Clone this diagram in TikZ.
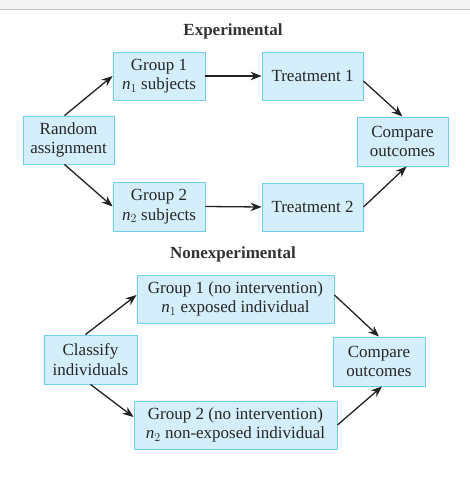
\documentclass[tikz,border=0pt]{standalone}
\usepackage{fontspec}
\setmainfont{Liberation Serif}
\usepackage{xcolor}
\usepackage{tikz}
\usetikzlibrary{arrows.meta, positioning}

\definecolor{boxfill}{HTML}{D4EEFB}
\definecolor{boxline}{HTML}{6FCFF2}
\definecolor{arrowcol}{HTML}{222222}

\begin{document}
\begin{tikzpicture}[x=1pt, y=-1pt,
    every node/.style={font=\fontsize{17}{19.5}\selectfont, text=black!85},
    box/.style={draw=boxline, fill=boxfill, line width=0.9pt, align=center, inner sep=0pt},
    heading/.style={font=\fontsize{17}{19.5}\selectfont\bfseries, text=black!80},
    link/.style={-{Stealth[length=11pt, width=8.5pt]}, line width=1.3pt, draw=arrowcol}]
  \useasboundingbox (0,0) rectangle (470,482);
  % page edge at the top
  \fill[gray!8] (0,0) rectangle (470,9);
  \draw[gray!45, line width=1pt] (0,9.5) -- (470,9.5);

  % Experimental
  \node[heading] (expt) at (233,31) {Experimental};
  \node[box, minimum width=91pt, minimum height=48pt] (rand) at (68.5,140) {Random\\assignment};
  \node[box, minimum width=92pt, minimum height=48pt] (grpA) at (159,76) {Group 1\\\textit{n}$_1$ subjects};
  \node[box, minimum width=92pt, minimum height=49pt] (grpB) at (159,206.5) {Group 2\\\textit{n}$_2$ subjects};
  \node[box, minimum width=101pt, minimum height=48pt] (trtA) at (312.5,76) {Treatment 1};
  \node[box, minimum width=101pt, minimum height=48pt] (trtB) at (312.5,207) {Treatment 2};
  \node[box, minimum width=91pt, minimum height=49pt] (cmpA) at (402.5,141.5) {Compare\\outcomes};

  \draw[link] ([xshift=-4pt]rand.north) -- (grpA.west);
  \draw[link] ([xshift=-4pt]rand.south) -- (grpB.west);
  \draw[link] (grpA.east) -- (trtA.west);
  \draw[link] (grpB.east) -- (trtB.west);
  \draw[link] ([yshift=-5pt]trtA.east) -- (cmpA.north);
  \draw[link] (trtB.east) -- ([xshift=4pt]cmpA.south);

  % Nonexperimental
  \node[heading] (nexp) at (233,254) {Nonexperimental};
  \node[box, minimum width=93pt, minimum height=49pt] (clsf) at (90.5,359.5) {Classify\\individuals};
  \node[box, minimum width=197pt, minimum height=48pt] (nexA) at (235.5,299) {Group 1 (no intervention)\\\textit{n}$_1$ exposed individual};
  \node[box, minimum width=203pt, minimum height=48pt] (nexB) at (235.5,425) {Group 2 (no intervention)\\\textit{n}$_2$ non-exposed individual};
  \node[box, minimum width=92pt, minimum height=49pt] (cmpB) at (379,361.5) {Compare\\outcomes};

  \draw[link] ([xshift=-5pt]clsf.north) -- ([yshift=4pt]nexA.west);
  \draw[link] (clsf.south) -- ([yshift=8pt]nexB.west);
  \draw[link] ([yshift=4pt]nexA.east) -- (cmpB.north);
  \draw[link] (nexB.east) -- ([xshift=3pt]cmpB.south);
\end{tikzpicture}
\end{document}
